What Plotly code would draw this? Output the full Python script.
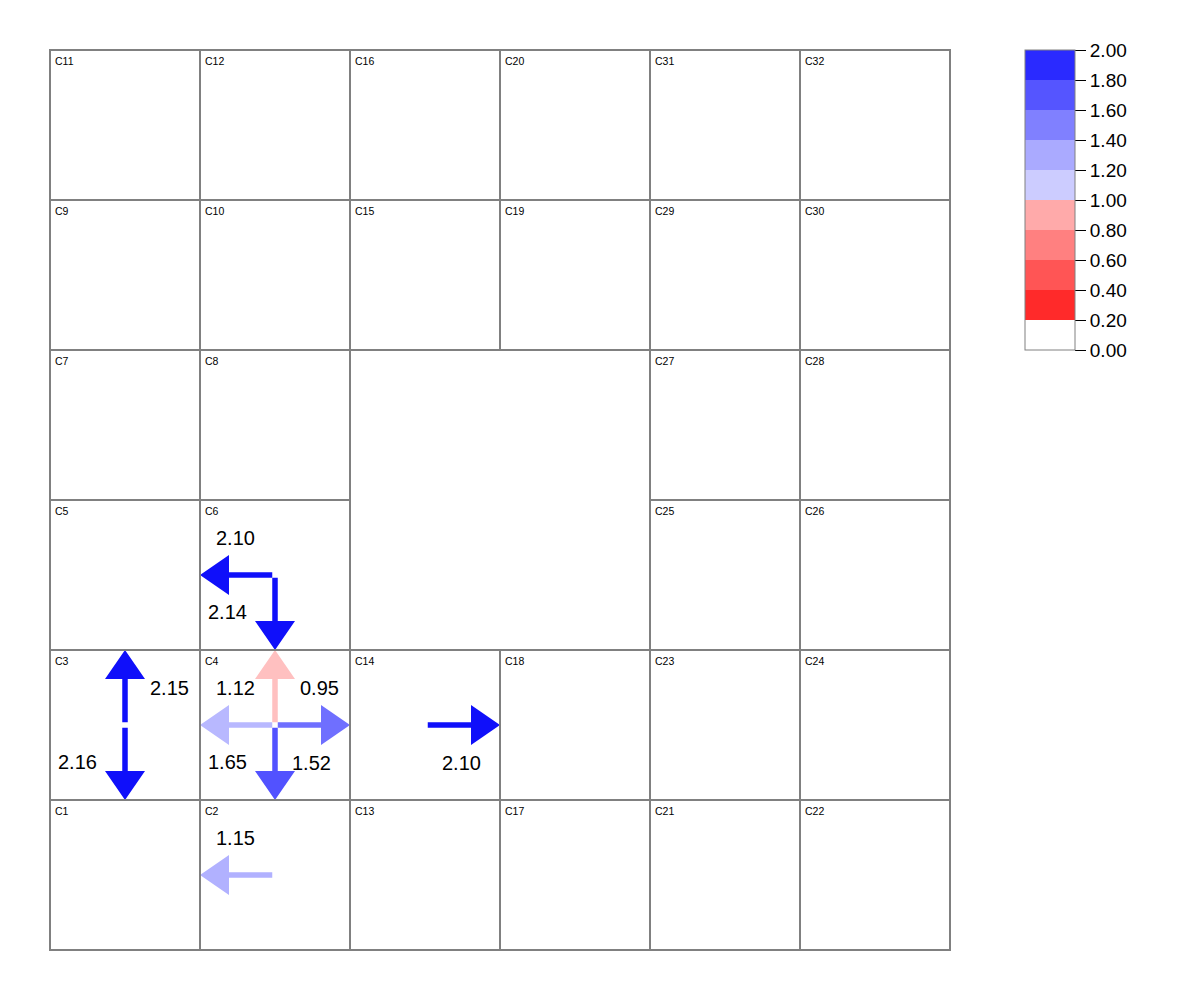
import plotly.graph_objects as go

# ---------------- data ----------------
cell_names = ["C11", "C12", "C16", "C20", "C31", "C32",
              "C9", "C10", "C15", "C19", "C29", "C30",
              "C7", "C8", "C27", "C28",
              "C5", "C6", "C25", "C26",
              "C3", "C4", "C14", "C18", "C23", "C24",
              "C1", "C2", "C13", "C17", "C21", "C22",
              ""]
cell_cols = [0, 1, 2, 3, 4, 5,
             0, 1, 2, 3, 4, 5,
             0, 1, 4, 5,
             0, 1, 4, 5,
             0, 1, 2, 3, 4, 5,
             0, 1, 2, 3, 4, 5,
             2]
cell_rows = [0, 0, 0, 0, 0, 0,
             1, 1, 1, 1, 1, 1,
             2, 2, 2, 2,
             3, 3, 3, 3,
             4, 4, 4, 4, 4, 4,
             5, 5, 5, 5, 5, 5,
             2]
cell_spans = [1] * 32 + [2]

arrow_cells = ["C3", "C3", "C4", "C4", "C4", "C4", "C6", "C6", "C14", "C2"]
arrow_dirs = ["up", "down", "up", "left", "right", "down", "left", "down", "right", "left"]
arrow_values = [2.15, 2.16, 0.95, 1.12, 1.52, 1.65, 2.10, 2.14, 2.10, 1.15]

cbar_ticks = [0.0, 0.2, 0.4, 0.6, 0.8, 1.0, 1.2, 1.4, 1.6, 1.8, 2.0]
cbar_colors = ["#ffffff", "#ff2a2a", "#ff5555", "#ff8080", "#ffaaaa",
               "#ccccff", "#aaaaff", "#8080ff", "#5555ff", "#2a2aff"]

# ---------------- styles ----------------
CELL_PX = 150
PX = 1.0 / CELL_PX          # one screen pixel in data units
PAD = 3 * PX                # axis padding so outer borders are not clipped
SHAFT_W = 5.5 * PX
HEAD_L = 29 * PX
HEAD_HW = 20 * PX
START_OFF = 2.75 * PX
DIRS = {"up": (0, -1), "down": (0, 1), "left": (-1, 0), "right": (1, 0)}
LABEL_OFF = {"up": (44, -37), "down": (-48, 37), "left": (-40, -37), "right": (36, 38)}
GRID_COLOR = "#808080"

color_anchors = [(0.0, (255, 0, 0)), (0.95, (255, 192, 192)), (1.0, (210, 210, 255)),
                 (1.15, (177, 177, 255)), (1.5, (116, 116, 255)), (1.65, (82, 82, 255)),
                 (2.0, (15, 15, 250))]


def arrow_color(v):
    if v <= color_anchors[0][0]:
        c = color_anchors[0][1]
    elif v >= color_anchors[-1][0]:
        c = color_anchors[-1][1]
    else:
        for (a, ca), (b, cb) in zip(color_anchors[:-1], color_anchors[1:]):
            if a <= v <= b:
                t = (v - a) / (b - a)
                c = tuple(round(ca[i] + t * (cb[i] - ca[i])) for i in range(3))
                break
    return "rgb(%d,%d,%d)" % c


fig = go.Figure()
shapes = []
annotations = []

# cells
cell_lookup = {}
for name, c, r, s in zip(cell_names, cell_cols, cell_rows, cell_spans):
    shapes.append(dict(type="rect", xref="x", yref="y", x0=c, x1=c + s, y0=r, y1=r + s,
                       line=dict(color=GRID_COLOR, width=2), fillcolor="rgba(0,0,0,0)",
                       layer="above"))
    if name:
        cell_lookup[name] = (c, r)
        annotations.append(dict(x=c, y=r, xref="x", yref="y", text=name, showarrow=False,
                                xanchor="left", yanchor="middle", xshift=3, yshift=-11,
                                font=dict(family="Liberation Sans, Arial", size=10.5, color="#000")))

# arrows
for cell, d, v in zip(arrow_cells, arrow_dirs, arrow_values):
    c, r = cell_lookup[cell]
    cx, cy = c + 0.5, r + 0.5
    ux, uy = DIRS[d]
    px_, py_ = -uy, ux
    sx, sy = cx + ux * START_OFF, cy + uy * START_OFF
    tx, ty = cx + ux * 0.5, cy + uy * 0.5
    bx, by = tx - ux * HEAD_L, ty - uy * HEAD_L
    hw = SHAFT_W / 2
    pts = [(sx + px_ * hw, sy + py_ * hw), (bx + px_ * hw, by + py_ * hw),
           (bx + px_ * HEAD_HW, by + py_ * HEAD_HW), (tx, ty),
           (bx - px_ * HEAD_HW, by - py_ * HEAD_HW), (bx - px_ * hw, by - py_ * hw),
           (sx - px_ * hw, sy - py_ * hw), (sx + px_ * hw, sy + py_ * hw)]
    col = arrow_color(v)
    fig.add_trace(go.Scatter(x=[p[0] for p in pts], y=[p[1] for p in pts], mode="lines",
                             fill="toself", fillcolor=col, line=dict(width=0, color=col),
                             hoverinfo="skip", showlegend=False))
    ox, oy = LABEL_OFF[d]
    annotations.append(dict(x=cx, y=cy, xref="x", yref="y", text="%.2f" % v, showarrow=False,
                            xanchor="center", yanchor="middle", xshift=ox, yshift=-oy,
                            font=dict(family="Liberation Sans, Arial", size=20, color="#000")))

# colorbar
n = len(cbar_colors)
cscale = []
for i, ccol in enumerate(cbar_colors):
    cscale.append([i / n, ccol])
    cscale.append([(i + 1) / n, ccol])

plot_w = (6 + 2 * PAD) * CELL_PX   # 906 px
plot_h = (6 + 2 * PAD) * CELL_PX
left = 50 - PAD * CELL_PX            # 47 px
top = 50 - PAD * CELL_PX

fig.add_trace(go.Scatter(x=[None], y=[None], mode="markers", showlegend=False, hoverinfo="skip",
                         marker=dict(color=[0], cmin=cbar_ticks[0], cmax=cbar_ticks[-1],
                                     colorscale=cscale, showscale=True,
                                     colorbar=dict(x=(1025 - left) / plot_w, xanchor="left", xpad=0,
                                                   y=1 - (50 - top) / plot_h, yanchor="top", ypad=0,
                                                   lenmode="pixels", len=300,
                                                   thicknessmode="pixels", thickness=50,
                                                   outlinecolor=GRID_COLOR, outlinewidth=1,
                                                   tickvals=cbar_ticks,
                                                   ticktext=["%.2f" % t for t in cbar_ticks],
                                                   ticks="outside", ticklen=11, tickwidth=1,
                                                   tickcolor="#000",
                                                   tickfont=dict(family="Liberation Sans, Arial",
                                                                 size=19, color="#000")))))

fig.update_layout(
    width=1200, height=1000,
    margin=dict(l=left, r=1200 - left - plot_w, t=top, b=1000 - top - plot_h),
    paper_bgcolor="white", plot_bgcolor="white",
    xaxis=dict(range=[-PAD, 6 + PAD], visible=False, showgrid=False, zeroline=False, fixedrange=True),
    yaxis=dict(range=[6 + PAD, -PAD], visible=False, showgrid=False, zeroline=False, fixedrange=True),
    shapes=shapes, annotations=annotations,
)

fig.write_html("out.html")
